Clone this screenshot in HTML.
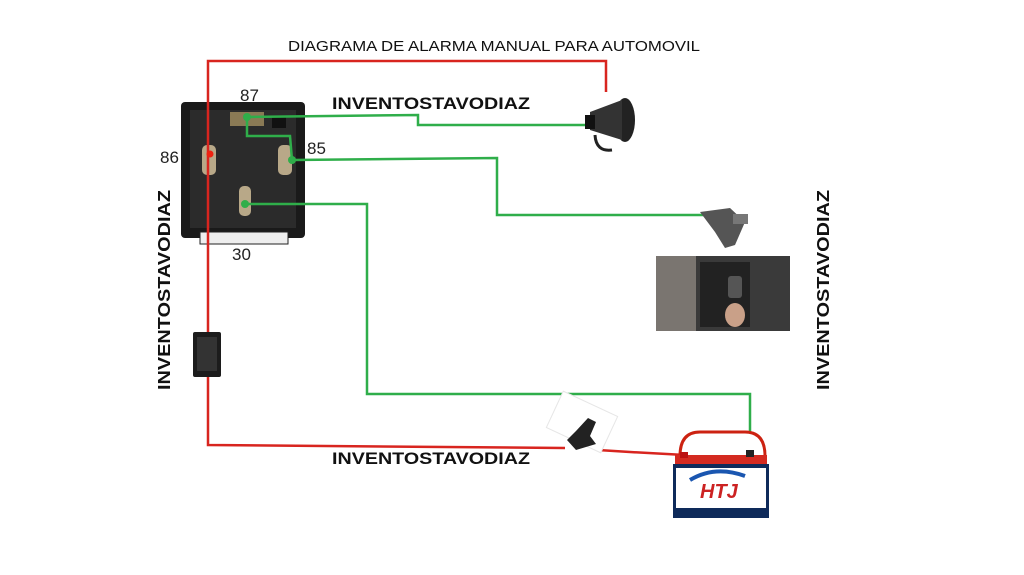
<!DOCTYPE html>
<html><head><meta charset="utf-8"><style>
html,body{margin:0;padding:0;background:#fff;width:1024px;height:575px;overflow:hidden}
text{font-family:"Liberation Sans",sans-serif}
</style></head><body>
<svg width="1024" height="575" viewBox="0 0 1024 575" xmlns="http://www.w3.org/2000/svg">
<text x="288" y="51" font-size="15" fill="#111" textLength="412" lengthAdjust="spacingAndGlyphs">DIAGRAMA DE ALARMA MANUAL PARA AUTOMOVIL</text>
<!-- relay -->
<rect x="181" y="102" width="124" height="136" rx="4" fill="#1a1a1a"/>
<rect x="190" y="110" width="106" height="118" fill="#2b2b2b"/>
<rect x="200" y="232" width="88" height="12" fill="#eee" stroke="#222"/>
<rect x="230" y="112" width="34" height="14" fill="#8a7a55"/>
<rect x="272" y="116" width="14" height="12" fill="#111"/>
<rect x="202" y="145" width="14" height="30" rx="5" fill="#b8a888"/>
<rect x="278" y="145" width="14" height="30" rx="5" fill="#b8a888"/>
<rect x="239" y="186" width="12" height="30" rx="5" fill="#b8a888"/>
<text x="240" y="101" font-size="17" fill="#222">87</text>
<text x="160" y="163" font-size="17" fill="#222">86</text>
<text x="307" y="154" font-size="17" fill="#222">85</text>
<text x="232" y="260" font-size="17" fill="#222">30</text>
<!-- red wires -->
<g fill="none" stroke="#d8251f" stroke-width="2.5">
<polyline points="606,92 606,61 208,61 208,332"/>
<polyline points="208,376 208,445 565,448"/>
<polyline points="598,450 630,452 685,455"/>
</g>
<circle cx="210" cy="154" r="3.5" fill="#e21"/>
<!-- green wires -->
<g fill="none" stroke="#2fae4a" stroke-width="2.5">
<polyline points="247,117 418,115 418,125 592,125"/>
<polyline points="247,117 247,136 290,136 292,160"/>
<polyline points="292,160 497,158 497,215 710,215"/>
<polyline points="245,204 367,204 367,394 750,394 750,432"/>
</g>
<circle cx="247" cy="117" r="4" fill="#2fae4a"/>
<circle cx="292" cy="160" r="4" fill="#2fae4a"/>
<circle cx="245" cy="204" r="4" fill="#2fae4a"/>
<!-- horn -->
<ellipse cx="625" cy="120" rx="10" ry="22" fill="#222"/>
<path d="M590 112 L622 100 L622 140 L590 130 Z" fill="#333"/>
<rect x="585" y="115" width="10" height="14" fill="#111"/>
<path d="M595 135 Q596 152 612 150" stroke="#222" stroke-width="3" fill="none"/>
<!-- switch -->
<rect x="193" y="332" width="28" height="45" rx="2" fill="#1c1c1c"/>
<rect x="197" y="337" width="20" height="34" fill="#333"/>
<!-- door switch -->
<path d="M700 212 L730 208 L745 222 L735 245 L725 248 L715 232 Z" fill="#555"/>
<rect x="733" y="214" width="15" height="10" fill="#777"/>
<!-- photo -->
<rect x="656" y="256" width="134" height="75" fill="#3a3a3a"/>
<rect x="656" y="256" width="40" height="75" fill="#7a7570"/>
<rect x="700" y="262" width="50" height="65" fill="#222"/>
<rect x="728" y="276" width="14" height="22" rx="3" fill="#555"/>
<ellipse cx="735" cy="315" rx="10" ry="12" fill="#c9a088"/>
<!-- fuse -->
<rect x="552" y="402" width="60" height="40" fill="#fff" stroke="#e6e6e6" transform="rotate(25 582 422)"/>
<path d="M567 440 L576 431 L588 418 L596 422 L590 436 L596 444 L576 450 Z" fill="#222"/>
<!-- battery -->
<path d="M680 456 Q680 432 700 432 L745 432 Q765 432 765 456" stroke="#c21" stroke-width="3" fill="none"/>
<rect x="675" y="455" width="92" height="9" fill="#d42a20"/>
<rect x="680" y="452" width="8" height="6" fill="#b11"/>
<rect x="746" y="450" width="8" height="7" fill="#222"/>
<rect x="673" y="464" width="96" height="54" fill="#0e2a5a"/>
<rect x="676" y="468" width="90" height="40" fill="#fff"/>
<text x="700" y="498" font-size="20" font-weight="bold" fill="#c22" font-style="italic">HTJ</text>
<path d="M690 480 Q715 465 745 476" stroke="#1a56b0" stroke-width="4" fill="none"/>
<!-- watermark texts -->
<text x="332" y="109" font-size="17" font-weight="bold" fill="#111" textLength="198" lengthAdjust="spacingAndGlyphs">INVENTOSTAVODIAZ</text>
<text x="332" y="464" font-size="17" font-weight="bold" fill="#111" textLength="198" lengthAdjust="spacingAndGlyphs">INVENTOSTAVODIAZ</text>
<text transform="translate(170,390) rotate(-90)" font-size="17.5" font-weight="bold" fill="#111" textLength="200" lengthAdjust="spacingAndGlyphs">INVENTOSTAVODIAZ</text>
<text transform="translate(829,390) rotate(-90)" font-size="17.5" font-weight="bold" fill="#111" textLength="200" lengthAdjust="spacingAndGlyphs">INVENTOSTAVODIAZ</text>
</svg>
</body></html>
